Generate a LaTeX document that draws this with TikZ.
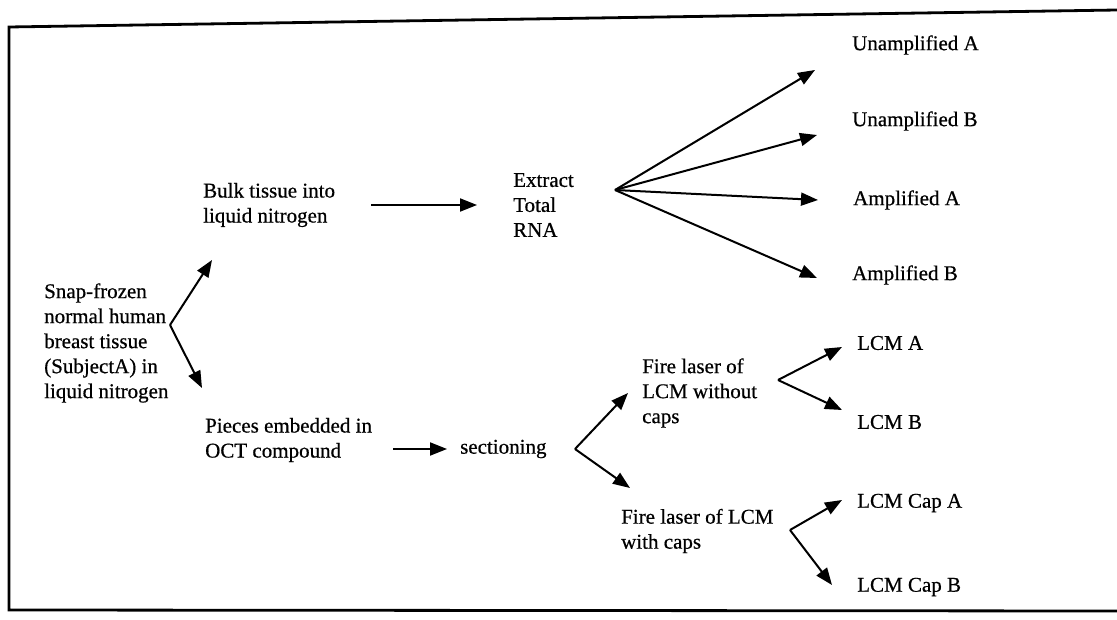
\documentclass[tikz,border=0pt]{standalone}
\usepackage{fontspec}
\setmainfont{Liberation Serif}[FakeBold=0.6]
\usetikzlibrary{arrows.meta,
                calc,
                positioning}

\begin{document}
\begin{tikzpicture}[
    x=1pt, y=-1pt,
      txt/.style = {anchor=west, inner sep=0pt, align=left, font=\fontsize{21}{25}\selectfont},
      arr/.style = {line width=2pt, -{Triangle[length=17pt, width=13pt]}},
  boxline/.style = {line width=2.8pt}
                    ]
  \useasboundingbox (0,0) rectangle (1117,620);
  \draw [boxline] (1117,10) -- (9,27) -- (9,610) -- (1117,611);
  % start
  \node [txt] (snap)    at (44,343)  {Snap-frozen\\ normal human\\ breast tissue\\ (SubjectA) in\\ liquid nitrogen};
  \node [txt] (bulk)    at (203,205) {Bulk tissue into\\ liquid nitrogen};
  \node [txt] (pieces)  at (205,440) {Pieces embedded in\\ OCT compound};
  % upper branch
  \node [txt] (rna)     at (513,205) {Extract\\ Total\\ RNA};
  \node [txt] (unampA)  at (852,45)  {Unamplified A};
  \node [txt] (unampB)  at (852,121) {Unamplified B};
  \node [txt] (ampA)    at (853,200) {Amplified A};
  \node [txt] (ampB)    at (852,275) {Amplified B};
  % lower branch
  \node [txt] (sect)    at (460,449) {sectioning};
  \node [txt] (fireNo)  at (642,393) {Fire laser of\\ LCM without\\ caps};
  \node [txt] (fireCap) at (621,531) {Fire laser of LCM\\ with caps};
  \node [txt] (lcmA)    at (857,343) {LCM A};
  \node [txt] (lcmB)    at (857,422) {LCM B};
  \node [txt] (capA)    at (857,503) {LCM Cap A};
  \node [txt] (capB)    at (857,587) {LCM Cap B};
  %---
  \coordinate (snapFork) at (170,325);
  \coordinate (rnaFork)  at (615,190);
  \coordinate (sectFork) at (575,449);
  \coordinate (lcmFork)  at (778,380);
  \coordinate (capFork)  at (790,530);
  %---
  \path [every edge/.append style={arr}]
    (snapFork) edge ([shift={(9,55)}]bulk.west)
    (snapFork) edge ([shift={(-3,-52)}]pieces.west)
    ([xshift=36pt]bulk.east) edge ([xshift=-36pt]rna.west)
    (rnaFork) edge ([shift={(-37,25)}]unampA.west)
    (rnaFork) edge ([shift={(-35,14)}]unampB.west)
    (rnaFork) edge ([shift={(-35,0)}]ampA.west)
    (rnaFork) edge ([shift={(-35,3)}]ampB.west)
    ([xshift=-67pt]sect.west) edge ([xshift=-13pt]sect.west)
    (sectFork) edge ([shift={(-14,0)}]fireNo.west)
    (sectFork) edge ([shift={(9,-43)}]fireCap.west)
    (lcmFork) edge ([shift={(-15,4)}]lcmA.west)
    (lcmFork) edge ([shift={(-15,-12)}]lcmB.west)
    (capFork) edge ([shift={(-15,-3)}]capA.west)
    (capFork) edge ([shift={(-25,-2)}]capB.west)
    ;
\end{tikzpicture}
\end{document}
